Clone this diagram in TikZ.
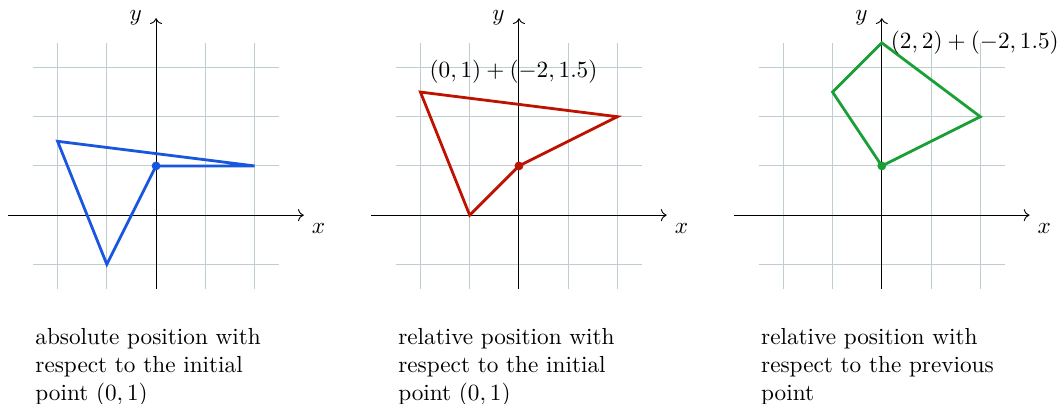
\documentclass[tikz,border=0pt]{standalone}
\usepackage{amsmath,amssymb}
\usepackage{xcolor}
\usetikzlibrary{arrows.meta,positioning,calc}

\definecolor{routeblue}{RGB}{24,86,222}
\definecolor{routered}{RGB}{190,18,0}
\definecolor{routegreen}{RGB}{24,160,54}
\definecolor{gridgray}{RGB}{190,205,208}

\begin{document}
\begin{tikzpicture}[x=0.745cm,y=0.745cm,
    gridline/.style={draw=gridgray,thin,step={(1,1)}},
    axis/.style={->,thin,draw=black},
    route/.style={very thick,line join=miter},
    startdot/.style={radius=1.9pt},
    sumlabel/.style={text=black},
    caption/.style={anchor=north west,inner sep=0pt,align=left}
  ]
    \useasboundingbox (-3.17,-3.82) rectangle (18.40,4.37);
    % grid and axes of the three panels
    \foreach \dx [count=\i] in {0,7.37,14.74}{
      \begin{scope}[shift={(\dx,0)}]
        \draw[gridline] (-2.5,-1.5) grid (2.5,3.5);
        \draw[axis] (-3,0) -- (3,0) node[below right] (xlabel\i) {$x$};
        \draw[axis] (0,-1.5) -- (0,4) node[left=2.6pt] (ylabel\i) {$y$};
      \end{scope}
    }
    % absolute coordinates
    \begin{scope}
      \draw[route,routeblue] (0,1) -- (2,1) -- (-2,1.5) -- (-1,-1) -- cycle;
      \fill[routeblue] (0,1) circle[startdot];
      \node[caption] (captionabs) at (-2.46,-2.3)
        {absolute position with\\respect to the initial\\point $(0,1)$};
    \end{scope}
    % relative to the initial point
    \begin{scope}[shift={(7.37,0)}]
      \draw[route,routered] (0,1) -- +(2,1)
        -- +(-2,1.5) node[above right,sumlabel] (sumred) {$(0,1)+(-2,1.5)$}
        -- +(-1,-1) -- cycle;
      \fill[routered] (0,1) circle[startdot];
      \node[caption] (captionrel) at (-2.46,-2.3)
        {relative position with\\respect to the initial\\point $(0,1)$};
    \end{scope}
    % relative to the previous point
    \begin{scope}[shift={(14.74,0)}]
      \draw[route,routegreen] (0,1) -- ++(2,1)
        -- ++(-2,1.5) node[right,sumlabel] (sumgreen) {$(2,2)+(-2,1.5)$}
        -- ++(-1,-1) -- cycle;
      \fill[routegreen] (0,1) circle[startdot];
      \node[caption] (captionprev) at (-2.46,-2.3)
        {relative position with\\respect to the previous\\point};
    \end{scope}
  \end{tikzpicture}
\end{document}
